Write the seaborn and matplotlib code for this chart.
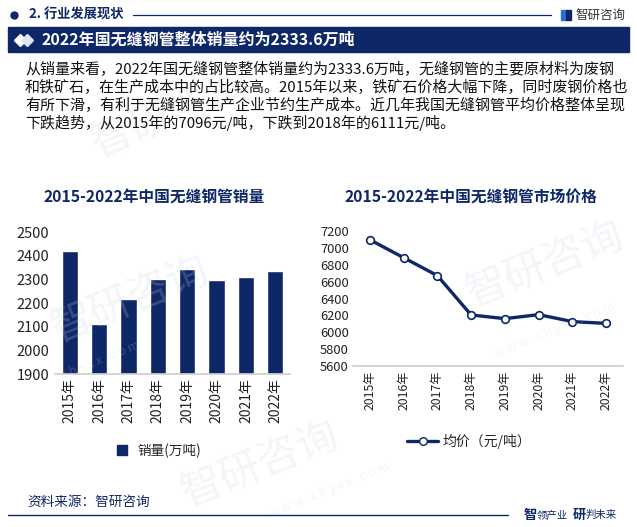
import numpy as np
import pandas as pd
import matplotlib
matplotlib.use('Agg')
import matplotlib.pyplot as plt
from matplotlib.patches import Rectangle
from matplotlib.lines import Line2D
import seaborn as sns

# data
years = ['2015年', '2016年', '2017年', '2018年', '2019年', '2020年', '2021年', '2022年']
sales = [2420, 2112, 2218, 2302, 2345, 2298, 2311, 2333.6]
price = [7096, 6884, 6671, 6205, 6161, 6209, 6126, 6105]

sales_ticks = [1900, 2000, 2100, 2200, 2300, 2400, 2500]
price_ticks = [5600, 5800, 6000, 6200, 6400, 6600, 6800, 7000, 7200]

navy = '#0E2766'

sns.set_theme(style='white')
plt.rcParams['font.family'] = ['Noto Sans CJK SC', 'DejaVu Sans']
plt.rcParams['axes.unicode_minus'] = False

fig = plt.figure(figsize=(6.37, 5.27), dpi=100)
W, H = 637, 527

def fx(x):
    return x / W

def fy(y):
    return 1 - y / H

# faint watermarks
wm = dict(color='#c9d3e6', alpha=0.22, ha='center', va='center', zorder=0)
fig.text(fx(130), fy(300), '智研咨询', fontsize=30, rotation=22, **wm)
fig.text(fx(545), fy(265), '智研咨询', fontsize=30, rotation=22, **wm)
fig.text(fx(260), fy(465), '智研咨询', fontsize=30, rotation=22, **wm)
fig.text(fx(170), fy(115), '智研咨询', fontsize=30, rotation=22, **wm)
fig.text(fx(330), fy(490), 'w w w . c h y x x . c o m', fontsize=9, rotation=22, **wm)
fig.text(fx(555), fy(330), 'w w w . c h y x x . c o m', fontsize=9, rotation=22, **wm)
fig.text(fx(100), fy(360), 'c h y x x . c o m', fontsize=9, rotation=22, **wm)

# header
fig.add_artist(Line2D([fx(14)], [fy(15)], marker='o', markersize=5, color=navy))
fig.text(fx(29), fy(15), '2. 行业发展现状', fontsize=9.5, fontweight='bold',
         color=navy, va='center')
fig.add_artist(Line2D([fx(133), fx(551)], [fy(15), fy(15)], color=navy, lw=0.9))
fig.add_artist(Rectangle((fx(561), fy(20)), fx(5), 10 / H, color='#2a6fd6'))
fig.add_artist(Rectangle((fx(566), fy(20)), fx(5), 10 / H, color=navy))
fig.text(fx(576), fy(15), '智研咨询', fontsize=9, color='#333333', va='center')

# banner
fig.add_artist(Rectangle((fx(8), fy(52)), fx(621), 25 / H, color=navy, zorder=1))
fig.add_artist(Line2D([fx(20)], [fy(40)], marker='D', markersize=6, ls='',
                      color='white', zorder=2))
fig.add_artist(Line2D([fx(27)], [fy(40)], marker='D', markersize=6, ls='',
                      color='#dfe6f3', zorder=2))
fig.text(fx(42), fy(40), '2022年国无缝钢管整体销量约为2333.6万吨', fontsize=11.5,
         fontweight='bold', color='white', va='center', zorder=2)

# paragraph
para = ['从销量来看，2022年国无缝钢管整体销量约为2333.6万吨，无缝钢管的主要原材料为废钢',
        '和铁矿石，在生产成本中的占比较高。2015年以来，铁矿石价格大幅下降，同时废钢价格也',
        '有所下滑，有利于无缝钢管生产企业节约生产成本。近几年我国无缝钢管平均价格整体呈现',
        '下跌趋势，从2015年的7096元/吨，下跌到2018年的6111元/吨。']
for i, line in enumerate(para):
    fig.text(fx(25), fy(69 + 18 * i), line, fontsize=10.8, color='#111111', va='center')

# chart titles
fig.text(fx(154), fy(198), '2015-2022年中国无缝钢管销量', fontsize=11.3,
         fontweight='bold', color=navy, ha='center', va='center')
fig.text(fx(471), fy(198), '2015-2022年中国无缝钢管市场价格', fontsize=11.3,
         fontweight='bold', color=navy, ha='center', va='center')

# left: bar chart
df1 = pd.DataFrame({'year': years, 'sales': sales})
ax1 = fig.add_axes([fx(55), fy(374), 235 / W, 142 / H])
ax1.patch.set_alpha(0)
sns.barplot(data=df1, x='year', y='sales', color=navy, saturation=1,
            width=0.55, ax=ax1)
ax1.set_ylim(1900, 2500)
ax1.set_yticks(sales_ticks)
ax1.set_xlim(-0.5, 7.5)
ax1.set_xlabel('')
ax1.set_ylabel('')
ax1.tick_params(axis='y', labelsize=10.5, colors='#222222', pad=4, length=0)
ax1.tick_params(axis='x', labelsize=10, colors='#222222', rotation=90, length=0, pad=3)
for s in ['top', 'right', 'left']:
    ax1.spines[s].set_visible(False)
ax1.spines['bottom'].set_color('#d0d0d0')
h1 = [Line2D([], [], marker='s', ls='', color=navy, markersize=7)]
ax1.legend(h1, ['销量(万吨)'], loc='center', bbox_to_anchor=(0.425, -0.54),
           frameon=False, fontsize=9.8, handletextpad=0.2)

# right: line chart
df2 = pd.DataFrame({'year': years, 'price': price})
ax2 = fig.add_axes([fx(353), fy(366), 270 / W, 135 / H])
ax2.patch.set_alpha(0)
sns.lineplot(data=df2, x='year', y='price', color=navy, lw=2.4, marker='o',
             markersize=5.5, markerfacecolor='white', markeredgecolor=navy,
             markeredgewidth=1.2, sort=False, ax=ax2)
ax2.set_ylim(5600, 7200)
ax2.set_yticks(price_ticks)
ax2.set_xlim(-0.5, 7.5)
ax2.set_xlabel('')
ax2.set_ylabel('')
ax2.tick_params(axis='y', labelsize=9.3, colors='#222222', pad=3, length=0)
ax2.tick_params(axis='x', labelsize=8.8, colors='#222222', rotation=90, length=0, pad=3)
for s in ['top', 'right', 'left']:
    ax2.spines[s].set_visible(False)
ax2.spines['bottom'].set_color('#d0d0d0')
h2 = [Line2D([], [], marker='o', color=navy, lw=2.4, markersize=5.5,
             markerfacecolor='white', markeredgecolor=navy)]
ax2.legend(h2, ['均价（元/吨）'], loc='center', bbox_to_anchor=(0.43, -0.56),
           frameon=False, fontsize=10, handlelength=2.2, handletextpad=0.3)

# footer
fig.text(fx(27), fy(502), '资料来源：智研咨询', fontsize=9.8, color=navy, va='center')
fig.add_artist(Line2D([fx(8), fx(508)], [fy(515), fy(515)], color=navy, lw=1))
fig.text(fx(524), fy(515), '智', fontsize=9.5, fontweight='bold', color=navy, va='center')
fig.text(fx(537), fy(515), '领产业', fontsize=7.5, color=navy, va='center')
fig.text(fx(573), fy(515), '研', fontsize=9.5, fontweight='bold', color=navy, va='center')
fig.text(fx(586), fy(515), '判未来', fontsize=7.5, color=navy, va='center')

fig.savefig('out.png', dpi=100)
